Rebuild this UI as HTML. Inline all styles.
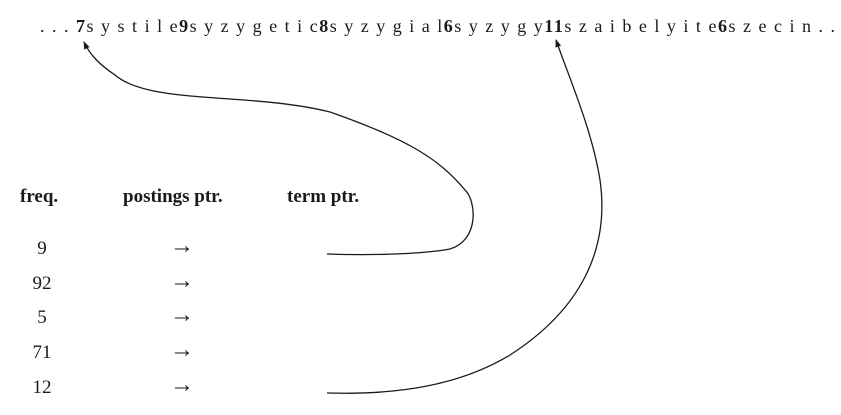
<!DOCTYPE html>
<html><head><meta charset="utf-8"><style>
html,body{margin:0;padding:0;background:#fff;}
svg{display:block;}
text{font-family:"Liberation Serif",serif;fill:#1a1a1a;}
</style></head><body>
<svg width="841" height="415" viewBox="0 0 841 415" xmlns="http://www.w3.org/2000/svg">
<defs><marker id="a" markerWidth="8" markerHeight="8" refX="7" refY="4" orient="auto" markerUnits="userSpaceOnUse"><path d="M0,1 L8,4 L0,7 Z" fill="#1a1a1a"/></marker></defs>
<text x="40" y="32" font-size="18" textLength="795" lengthAdjust="spacing">. . . <tspan font-weight="bold">7</tspan>s y s t i l e<tspan font-weight="bold">9</tspan>s y z y g e t i c<tspan font-weight="bold">8</tspan>s y z y g i a l<tspan font-weight="bold">6</tspan>s y z y g y<tspan font-weight="bold">11</tspan>s z a i b e l y i t e<tspan font-weight="bold">6</tspan>s z e c i n . .</text>
<g font-size="19" font-weight="bold">
<text x="20" y="202">freq.</text>
<text x="123" y="202">postings ptr.</text>
<text x="287" y="202">term ptr.</text>
</g>
<g font-size="19" text-anchor="middle">
<text x="42" y="254">9</text><text x="42" y="289">92</text><text x="42" y="323">5</text><text x="42" y="358">71</text><text x="42" y="393">12</text>
</g>
<g font-size="24" text-anchor="middle">
<text x="182" y="253">→</text><text x="182" y="288">→</text><text x="182" y="322">→</text><text x="182" y="357">→</text><text x="182" y="392">→</text>
</g>
<path d="M327,254 C380,256 430,253 450,249 C480,240 476,200 465,190 C440,160 410,140 330,112 C250,92 150,105 115,75 C100,65 90,55 84,42" fill="none" stroke="#1a1a1a" stroke-width="1.3" marker-end="url(#a)"/>
<path d="M327,393 C400,395 460,385 510,355 C580,310 610,250 600,180 C592,130 570,80 556,40" fill="none" stroke="#1a1a1a" stroke-width="1.3" marker-end="url(#a)"/>
</svg>
</body></html>
